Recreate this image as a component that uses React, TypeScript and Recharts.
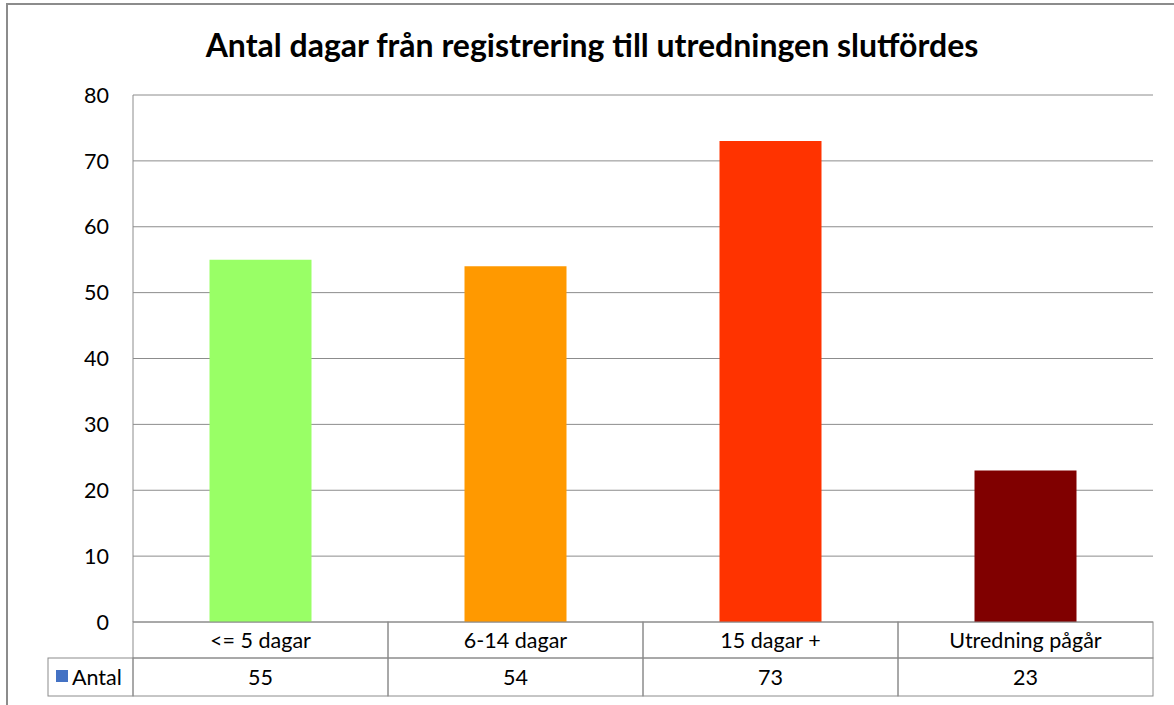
import React from 'react';
import { BarChart, Bar, XAxis, YAxis, CartesianGrid, Cell } from 'recharts';

const categories = ['<= 5 dagar', '6-14 dagar', '15 dagar +', 'Utredning pågår'];
const antal = [55, 54, 73, 23];
const barColors = ['#99FF66', '#FF9900', '#FF3300', '#800000'];
const yTicks = [0, 10, 20, 30, 40, 50, 60, 70, 80];

const data = categories.map((name, i) => ({ name, Antal: antal[i] }));

const FONT = 'Lato, "Open Sans", sans-serif';
const LINE = '#8c8c8c';

function TableTick(props: any) {
  const { x, y, payload, index } = props;
  const half = payload && payload.offset ? payload.offset : 127.5;
  const left = x - half;
  const w = half * 2;
  const row1 = 36;
  const row2 = 38;
  return (
    <g>
      <rect x={left} y={y} width={w} height={row1} fill="none" stroke={LINE} strokeWidth={1} />
      <rect x={left} y={y + row1} width={w} height={row2} fill="none" stroke={LINE} strokeWidth={1} />
      <text x={x} y={y + 26} textAnchor="middle" fontSize={21.5} fill="#000" fontFamily={FONT}>
        {payload.value}
      </text>
      <text x={x} y={y + row1 + 27} textAnchor="middle" fontSize={21.5} fill="#000" fontFamily={FONT}>
        {antal[index]}
      </text>
      {index === 0 && (
        <g>
          <rect x={left - 85} y={y + row1} width={85} height={row2} fill="none" stroke={LINE} strokeWidth={1} />
          <rect x={left - 77} y={y + row1 + 12} width={12} height={12} fill="#4472C4" />
          <text x={left - 61} y={y + row1 + 27} fontSize={21.5} fill="#000" fontFamily={FONT}>
            Antal
          </text>
        </g>
      )}
    </g>
  );
}

export default function App() {
  return (
    <div style={{ position: 'absolute', left: 0, top: 0, width: 1174, height: 705, background: '#fff', overflow: 'hidden' }}>
      <div
        style={{
          position: 'absolute',
          left: 6,
          top: 3,
          width: 1200,
          height: 720,
          borderLeft: `2px solid ${LINE}`,
          borderTop: `2px solid ${LINE}`,
        }}
      />
      <div
        style={{
          position: 'absolute',
          left: 0,
          top: 25,
          width: 1184,
          textAlign: 'center',
          fontFamily: FONT,
          fontWeight: 'bold',
          fontSize: 32,
          color: '#000',
        }}
      >
        Antal dagar från registrering till utredningen slutfördes
      </div>
      <BarChart
        width={1174}
        height={705}
        data={data}
        margin={{ top: 95, right: 21, left: 0, bottom: 0 }}
        barCategoryGap="30%"
        style={{ position: 'absolute', left: 0, top: 0 }}
      >
        <CartesianGrid vertical={false} stroke={LINE} strokeWidth={1} />
        <XAxis
          dataKey="name"
          axisLine={false}
          tickLine={false}
          tickSize={0}
          tickMargin={0}
          interval={0}
          tick={<TableTick />}
          height={83}
        />
        <YAxis
          width={133}
          domain={[0, 80]}
          ticks={yTicks}
          interval={0}
          axisLine={{ stroke: LINE }}
          tickLine={false}
          tickMargin={18}
          tick={{ fontSize: 21.5, fill: '#000', fontFamily: FONT }}
        />
        <Bar dataKey="Antal" isAnimationActive={false}>
          {data.map((d, i) => (
            <Cell key={d.name} fill={barColors[i]} />
          ))}
        </Bar>
      </BarChart>
    </div>
  );
}
